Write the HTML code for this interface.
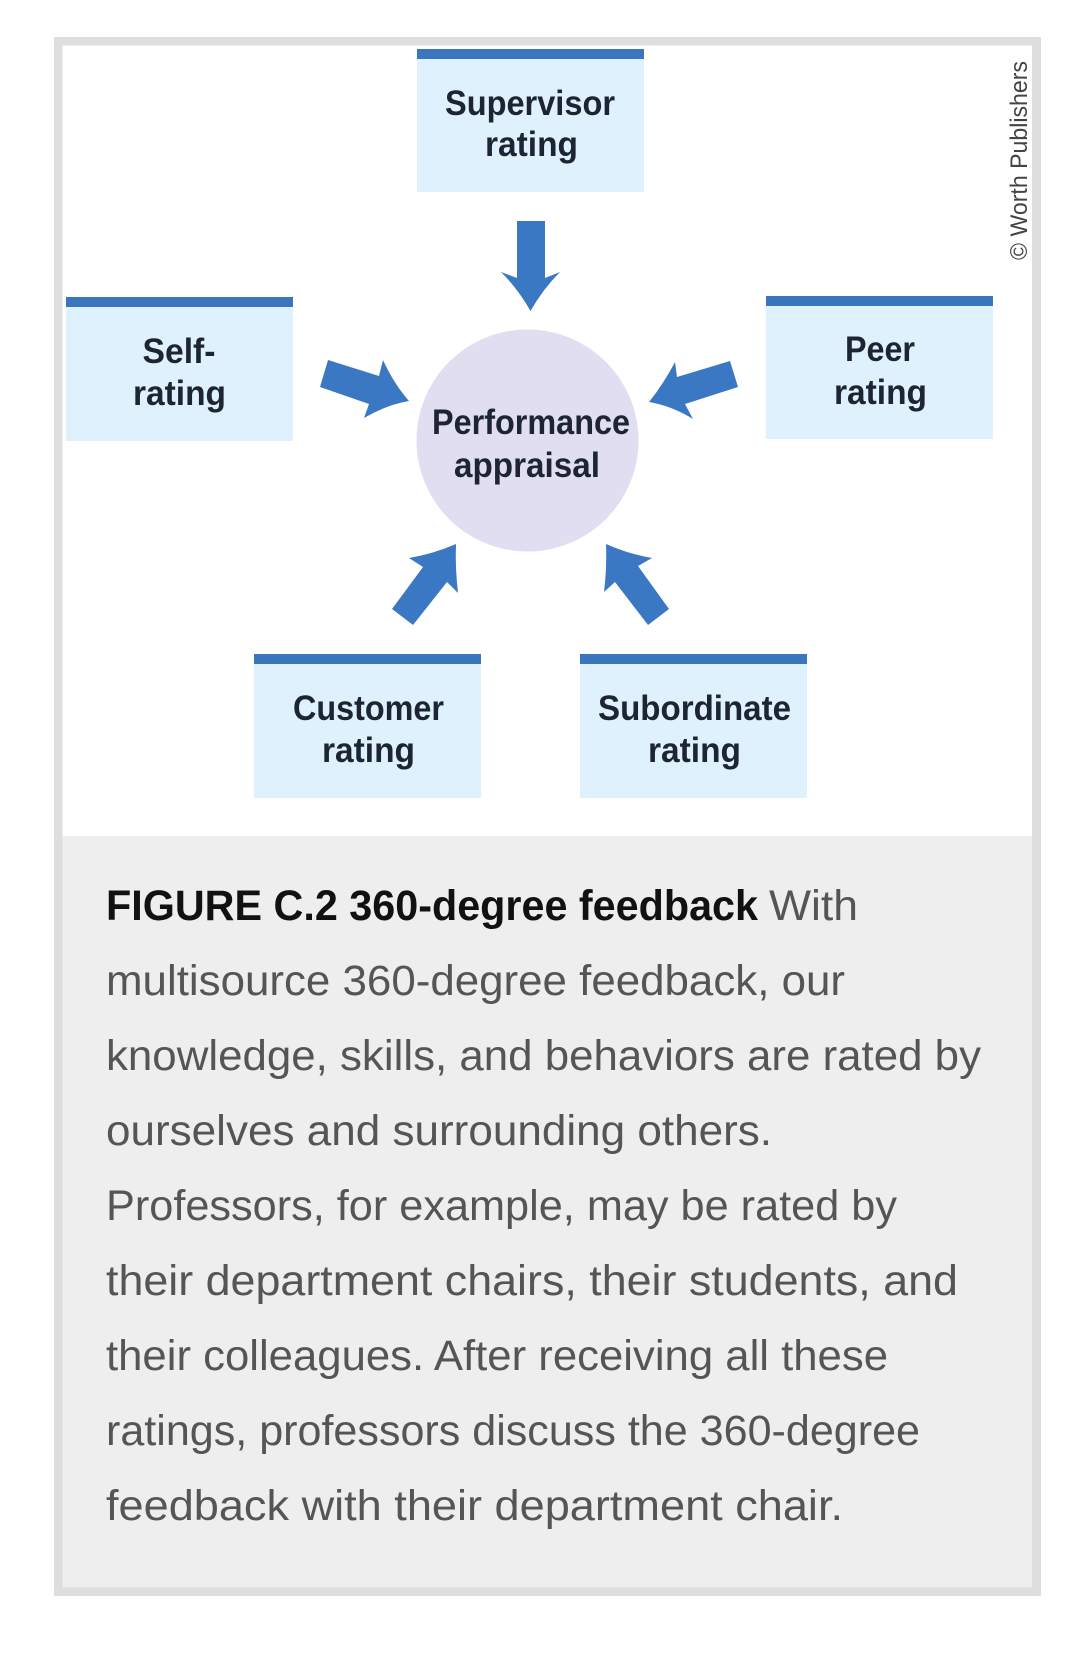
<!DOCTYPE html>
<html lang="en">
<head>
<meta charset="utf-8">
<title>Figure C.2 360-degree feedback</title>
<style>
html,body{margin:0;padding:0;background:#fff;width:1084px;height:1653px;overflow:hidden}
svg{display:block}
text{font-family:"Liberation Sans",sans-serif}
.l{font-size:35px;font-weight:bold;fill:#1d2432}
.c{font-size:43px;fill:#555}
.b{font-size:43px;font-weight:bold;fill:#111}
</style>
</head>
<body>
<svg width="1084" height="1653" viewBox="0 0 1084 1653" xmlns="http://www.w3.org/2000/svg">
<rect width="1084" height="1653" fill="#fff"/>
<rect x="54" y="37" width="987" height="1559" fill="#dedede"/>
<rect x="62.5" y="45.5" width="969.5" height="1542" fill="#fff"/>
<rect x="62.5" y="836" width="969.5" height="751.500" fill="#eee"/>

<g fill="#dff1fc">
<rect x="417" y="49" width="227" height="143"/>
<rect x="66" y="297" width="227" height="144"/>
<rect x="766" y="296" width="227" height="143"/>
<rect x="254" y="654" width="227" height="144"/>
<rect x="580" y="654" width="227" height="144"/>
</g>
<g fill="#3a75bd">
<rect x="417" y="49" width="227" height="10"/>
<rect x="66" y="297" width="227" height="10"/>
<rect x="766" y="296" width="227" height="10"/>
<rect x="254" y="654" width="227" height="10"/>
<rect x="580" y="654" width="227" height="10"/>
</g>

<ellipse cx="527.500" cy="440.500" rx="111" ry="111" fill="#e0def0"/>

<g fill="#3a78c4">
<path d="M517 221H545V278L560 272Q543 289 530.500 311Q518 289 501 272L517 278Z"/>
<path d="M328 360L320 387L369 404L364 418Q386 405 409 401Q394 384 383 360L379 376Z"/>
<path d="M730 361L738 387L685 404L693 419Q672 406 649 402Q663.500 384 675 362L677 377Z"/>
<path d="M392 609L413 625L447 582L458 593Q455 567 456 544Q433 554 409 558L423 567Z"/>
<path d="M669 609L648 625L615 582L604 592Q607 567 606 544Q628.500 554 652 558L638 566Z"/>
</g>

<g class="labels">
<text class="l" x="445" y="115" textLength="170" lengthAdjust="spacingAndGlyphs">Supervisor</text>
<text class="l" x="485" y="156" textLength="93" lengthAdjust="spacingAndGlyphs">rating</text>
<text class="l" x="142.500" y="363" textLength="73" lengthAdjust="spacingAndGlyphs">Self-</text>
<text class="l" x="133" y="405" textLength="93" lengthAdjust="spacingAndGlyphs">rating</text>
<text class="l" x="845" y="361" textLength="70" lengthAdjust="spacingAndGlyphs">Peer</text>
<text class="l" x="834" y="404" textLength="93" lengthAdjust="spacingAndGlyphs">rating</text>
<text class="l" x="432" y="434" textLength="198" lengthAdjust="spacingAndGlyphs">Performance</text>
<text class="l" x="454" y="477" textLength="146" lengthAdjust="spacingAndGlyphs">appraisal</text>
<text class="l" x="293" y="720" textLength="151" lengthAdjust="spacingAndGlyphs">Customer</text>
<text class="l" x="322" y="762" textLength="93" lengthAdjust="spacingAndGlyphs">rating</text>
<text class="l" x="598" y="720" textLength="193" lengthAdjust="spacingAndGlyphs">Subordinate</text>
<text class="l" x="648" y="762" textLength="93" lengthAdjust="spacingAndGlyphs">rating</text>
</g>

<text transform="translate(1027 260) rotate(-90)" font-size="24" fill="#444" textLength="199" lengthAdjust="spacingAndGlyphs">© Worth Publishers</text>

<text class="b" x="106" y="920" textLength="652" lengthAdjust="spacingAndGlyphs">FIGURE C.2 360-degree feedback</text>
<text class="c" x="769" y="920" textLength="89" lengthAdjust="spacingAndGlyphs">With</text>
<text class="c" x="106" y="995" textLength="739" lengthAdjust="spacingAndGlyphs">multisource 360-degree feedback, our</text>
<text class="c" x="106" y="1070" textLength="875" lengthAdjust="spacingAndGlyphs">knowledge, skills, and behaviors are rated by</text>
<text class="c" x="106" y="1145" textLength="666" lengthAdjust="spacingAndGlyphs">ourselves and surrounding others.</text>
<text class="c" x="106" y="1220" textLength="791" lengthAdjust="spacingAndGlyphs">Professors, for example, may be rated by</text>
<text class="c" x="106" y="1295" textLength="852" lengthAdjust="spacingAndGlyphs">their department chairs, their students, and</text>
<text class="c" x="106" y="1370" textLength="782" lengthAdjust="spacingAndGlyphs">their colleagues. After receiving all these</text>
<text class="c" x="106" y="1445" textLength="814" lengthAdjust="spacingAndGlyphs">ratings, professors discuss the 360-degree</text>
<text class="c" x="106" y="1520" textLength="737" lengthAdjust="spacingAndGlyphs">feedback with their department chair.</text>
</svg>
</body>
</html>
